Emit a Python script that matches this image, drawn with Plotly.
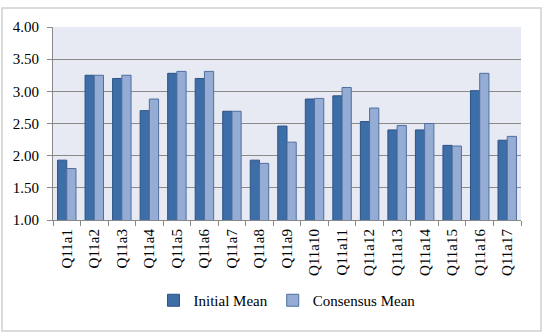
import plotly.graph_objects as go

categories = ["Q11a1","Q11a2","Q11a3","Q11a4","Q11a5","Q11a6","Q11a7","Q11a8","Q11a9",
              "Q11a10","Q11a11","Q11a12","Q11a13","Q11a14","Q11a15","Q11a16","Q11a17"]
initial_mean = [1.93,3.25,3.20,2.70,3.28,3.20,2.69,1.93,2.46,2.88,2.93,2.53,2.40,2.40,2.16,3.01,2.24]
consensus_mean = [1.80,3.25,3.25,2.88,3.31,3.31,2.69,1.88,2.21,2.89,3.06,2.74,2.47,2.50,2.15,3.28,2.30]
y_ticks = [1.0,1.5,2.0,2.5,3.0,3.5,4.0]

FONT = "Liberation Serif"
fig = go.Figure()
fig.add_trace(go.Bar(x=categories, y=initial_mean, name="Initial Mean",
                     marker=dict(color="#3E6EA8", line=dict(color="#2B5385", width=1))))
fig.add_trace(go.Bar(x=categories, y=consensus_mean, name="Consensus Mean",
                     marker=dict(color="#95ACD4", line=dict(color="#4F6F9F", width=1))))

L, R, T, B = 53, 29, 27, 116
pw, ph = 550 - L - R, 336 - T - B
fig.update_layout(
    width=550, height=336, barmode="group", bargap=0.33, bargroupgap=0,
    margin=dict(l=L, r=R, t=T, b=B),
    paper_bgcolor="white", plot_bgcolor="#E7EAF3",
    font=dict(family=FONT, size=15, color="#000"),
    showlegend=True,
    legend=dict(orientation="h", x=0.5, xanchor="center", y=(220-317)/ph, yanchor="bottom",
                font=dict(family=FONT, size=15), itemwidth=30, tracegroupgap=0),
    xaxis=dict(tickangle=-90, tickson="boundaries", ticks="outside", ticklen=5,
               tickcolor="#888", showline=True, linecolor="#888", linewidth=1,
               tickfont=dict(family=FONT, size=15), ticklabelstandoff=2),
    yaxis=dict(range=[1, 4], tickvals=y_ticks, tickformat=".2f", ticks="outside", ticklen=5,
               tickcolor="#888", showline=True, linecolor="#888", gridcolor="#8A8A8A",
               gridwidth=1, tickfont=dict(family=FONT, size=15), zeroline=False,
               ticklabelstandoff=5),
    shapes=[dict(type="rect", xref="paper", yref="paper",
                 x0=(2 - L) / pw, x1=(541 - L) / pw, y0=(220 - 331) / ph, y1=(220 - 8) / ph,
                 line=dict(color="#D0D0D0", width=1.5), fillcolor="rgba(0,0,0,0)", layer="below")],
)
fig.write_html("out.html")
